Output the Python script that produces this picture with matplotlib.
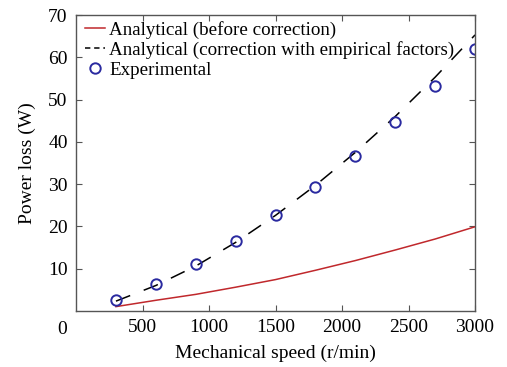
import numpy as np
import matplotlib
matplotlib.use("Agg")
import matplotlib.pyplot as plt

plt.rcParams["font.family"] = ["Liberation Serif", "DejaVu Serif"]

# speeds (r/min)
speed = np.array([300, 600, 900, 1200, 1500, 1800, 2100, 2400, 2700, 3000])
# analytical, before correction (W)
loss_before = np.array([1.0, 2.5, 3.9, 5.6, 7.4, 9.6, 11.9, 14.4, 17.0, 19.9])
# analytical, corrected with empirical factors (W)
loss_corr = np.array([2.3, 6.0, 10.6, 16.2, 22.6, 29.7, 37.5, 46.0, 55.3, 65.3])
# measured (W)
loss_exp = np.array([2.6, 6.4, 11.1, 16.5, 22.7, 29.3, 36.6, 44.6, 53.2, 61.9])

fig = plt.figure(figsize=(5.07, 3.67), dpi=100)
ax = fig.add_axes([0.150, 0.153, 0.787, 0.806])

ax.plot(speed, loss_before, "-", color="#c0282c", lw=1.1,
        label="Analytical (before correction)")
ax.plot(speed, loss_corr, "--", color="black", lw=1.1, dashes=(10, 9.5),
        label="Analytical (correction with empirical factors)")
ax.plot(speed, loss_exp, "o", mfc="none", mec="#2a2aa0", mew=1.4, ms=7.5,
        label="Experimental")

ax.set_xlim(0, 3000)
ax.set_ylim(0, 70)
ax.set_xticks([500, 1000, 1500, 2000, 2500, 3000])
ax.set_yticks([10, 20, 30, 40, 50, 60, 70])
ax.tick_params(direction="in", top=True, right=True, labelsize=14,
               length=4, color="#555555", pad=6)
for s in ax.spines.values():
    s.set_color("#555555")
    s.set_linewidth(1.0)

# the lone "0" sits left of the axis corner
ax.text(-0.035, -0.036, "0", transform=ax.transAxes, ha="center", va="top",
        fontsize=14)

ax.set_xlabel("Mechanical speed (r/min)", fontsize=14, labelpad=6)
ax.set_ylabel("Power loss (W)", fontsize=14, labelpad=9)

leg = ax.legend(loc="upper left", bbox_to_anchor=(0.0226, 0.98),
                frameon=False, fontsize=13.7, handlelength=1.05,
                handletextpad=0.21, borderaxespad=0.0, borderpad=0.0,
                labelspacing=0.125)
# shorter dashes in the legend key, as in the original
leg.get_lines()[1].set_dashes((3.5, 2.5))

fig.savefig("out.png", dpi=100)
